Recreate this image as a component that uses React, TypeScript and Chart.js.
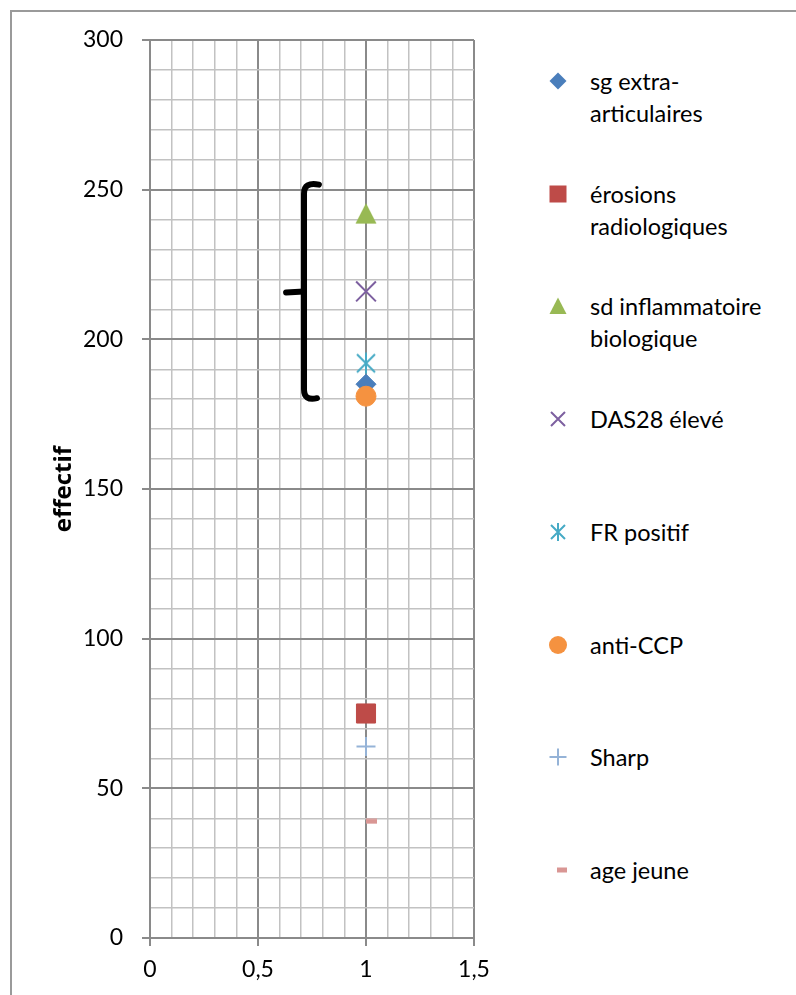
import React, { useEffect, useRef } from 'react';
import { Chart, registerables } from 'chart.js';

Chart.register(...registerables);

// Series: one point each, all at x = 1
const seriesNames = [
  'sg extra-\narticulaires',
  'érosions\nradiologiques',
  'sd inflammatoire\nbiologique',
  'DAS28 élevé',
  'FR positif',
  'anti-CCP',
  'Sharp',
  'age jeune',
];
const seriesX = [1, 1, 1, 1, 1, 1, 1, 1];
const seriesY = [185, 75, 242, 216, 192, 181, 64, 39];
const seriesColors = ['#4a7ebb', '#be4b48', '#98b954', '#7d60a0', '#46aac5', '#f59240', '#95b3d7', '#d99694'];
const seriesMarkers = ['diamond', 'square', 'triangle', 'cross', 'asterisk', 'circle', 'plus', 'dash'];

// Axes
const xMin = 0;
const xMax = 1.5;
const xStep = 0.1;
const xTickValues = [0, 0.5, 1, 1.5];
const xTickLabels = ['0', '0,5', '1', '1,5'];
const yMin = 0;
const yMax = 300;
const yStep = 10;
const yTickValues = [0, 50, 100, 150, 200, 250, 300];
const yTickLabels = ['0', '50', '100', '150', '200', '250', '300'];
const yTitle = 'effectif';

// Hand-drawn brace grouping the upper points (data units)
const braceX = 0.713;
const braceTopHookX = 0.782;
const braceBottomHookX = 0.773;
const braceNibX = 0.63;
const braceTop = 252;
const braceBottom = 180;
const braceMid = 216;

const FONT = 'Lato, "Open Sans", "DejaVu Sans", sans-serif';
const TITLE_FONT = '"Open Sans", Lato, "DejaVu Sans", sans-serif';

const near = (a: number, b: number) => Math.abs(a - b) < 1e-6;
const isMajor = (v: number, list: number[]) => list.some((t) => near(t, v));
const labelFor = (v: number, values: number[], labels: string[]) => {
  const i = values.findIndex((t) => near(t, v));
  return i >= 0 ? labels[i] : '';
};

const MINOR = '#c2c2c2';
const MAJOR = '#8a8a8a';

function markerCanvas(kind: string, color: string): HTMLCanvasElement {
  const c = document.createElement('canvas');
  const ctx = c.getContext('2d')!;
  if (kind === 'triangle') {
    c.width = 22;
    c.height = 22;
    ctx.fillStyle = color;
    ctx.beginPath();
    ctx.moveTo(11, 0.5);
    ctx.lineTo(21.5, 21);
    ctx.lineTo(0.5, 21);
    ctx.closePath();
    ctx.fill();
  } else if (kind === 'asterisk') {
    c.width = 22;
    c.height = 22;
    ctx.strokeStyle = color;
    ctx.lineWidth = 2;
    ctx.beginPath();
    ctx.moveTo(2, 2);
    ctx.lineTo(20, 20);
    ctx.moveTo(20, 2);
    ctx.lineTo(2, 20);
    ctx.moveTo(11, 0.5);
    ctx.lineTo(11, 21.5);
    ctx.stroke();
  } else {
    // dash: drawn to the right of the point, Excel style
    c.width = 24;
    c.height = 6;
    ctx.fillStyle = color;
    ctx.fillRect(12, 0.5, 11, 5);
  }
  return c;
}

function pointProps(kind: string, color: string) {
  switch (kind) {
    case 'diamond':
      return { pointStyle: 'rectRot', radius: 10, borderWidth: 1 };
    case 'square':
      return { pointStyle: 'rect', radius: 13.5, borderWidth: 1 };
    case 'circle':
      return { pointStyle: 'circle', radius: 10, borderWidth: 1 };
    case 'cross':
      return { pointStyle: 'crossRot', radius: 14, borderWidth: 2 };
    case 'plus':
      return { pointStyle: 'cross', radius: 9.5, borderWidth: 2 };
    default:
      return { pointStyle: markerCanvas(kind, color), radius: 10, borderWidth: 0 };
  }
}

function LegendMarker({ kind, color }: { kind: string; color: string }) {
  let shape: React.ReactNode = null;
  switch (kind) {
    case 'diamond':
      shape = <polygon points="10,1.5 18.5,10 10,18.5 1.5,10" fill={color} />;
      break;
    case 'square':
      shape = <rect x="1.5" y="1.5" width="17" height="17" fill={color} />;
      break;
    case 'triangle':
      shape = <polygon points="10,1.5 18.5,18 1.5,18" fill={color} />;
      break;
    case 'cross':
      shape = <path d="M3 3 L17 17 M17 3 L3 17" stroke={color} strokeWidth="2" />;
      break;
    case 'asterisk':
      shape = <path d="M3 3 L17 17 M17 3 L3 17 M10 1 L10 19" stroke={color} strokeWidth="2" />;
      break;
    case 'circle':
      shape = <circle cx="10" cy="10" r="9" fill={color} />;
      break;
    case 'plus':
      shape = <path d="M1.5 10 L18.5 10 M10 1.5 L10 18.5" stroke={color} strokeWidth="2" />;
      break;
    default:
      shape = <rect x="9" y="7.5" width="10" height="5" fill={color} />;
  }
  return (
    <svg width="20" height="20" viewBox="0 0 20 20" style={{ display: 'block' }}>
      {shape}
    </svg>
  );
}

const bracePlugin = {
  id: 'brace',
  afterDatasetsDraw(chart: any) {
    const { ctx, scales } = chart;
    const x = scales.x;
    const y = scales.y;
    const px = x.getPixelForValue(braceX);
    const top = y.getPixelForValue(braceTop);
    const bot = y.getPixelForValue(braceBottom);
    const mid = y.getPixelForValue(braceMid);
    ctx.save();
    ctx.strokeStyle = '#000';
    ctx.lineWidth = 6;
    ctx.lineCap = 'round';
    ctx.lineJoin = 'round';
    ctx.beginPath();
    ctx.moveTo(x.getPixelForValue(braceTopHookX), top + 1);
    ctx.quadraticCurveTo(px, top - 2, px, top + 10);
    ctx.lineTo(px, bot - 10);
    ctx.quadraticCurveTo(px, bot + 2, x.getPixelForValue(braceBottomHookX), bot - 1);
    ctx.stroke();
    ctx.beginPath();
    ctx.moveTo(px, mid);
    ctx.lineTo(x.getPixelForValue(braceNibX), mid + 1);
    ctx.stroke();
    ctx.restore();
  },
};

export default function App() {
  const canvasRef = useRef<HTMLCanvasElement | null>(null);

  useEffect(() => {
    if (!canvasRef.current) return;
    const datasets = seriesNames.map((name, i) => {
      const p = pointProps(seriesMarkers[i], seriesColors[i]);
      return {
        label: name.replace('\n', ''),
        data: [{ x: seriesX[i], y: seriesY[i] }],
        backgroundColor: seriesColors[i],
        borderColor: seriesColors[i],
        pointStyle: p.pointStyle as any,
        pointRadius: p.radius,
        pointBorderWidth: p.borderWidth,
        showLine: false,
        order: seriesNames.length - i,
      };
    });

    const chart = new Chart(canvasRef.current, {
      type: 'scatter',
      data: { datasets },
      plugins: [bracePlugin],
      options: {
        responsive: false,
        animation: false,
        events: [],
        layout: { padding: { left: 46, top: 40, right: 26, bottom: 0 } },
        plugins: { legend: { display: false }, tooltip: { enabled: false } },
        scales: {
          x: {
            type: 'linear',
            min: xMin,
            max: xMax,
            ticks: {
              stepSize: xStep,
              autoSkip: false,
              maxRotation: 0,
              minRotation: 0,
              padding: 10,
              color: '#000',
              font: { family: FONT, size: 23 },
              callback: (v: any) => labelFor(Number(v), xTickValues, xTickLabels),
            },
            grid: {
              color: (c: any) => (isMajor(c.tick.value, xTickValues) ? MAJOR : MINOR),
              lineWidth: (c: any) => (isMajor(c.tick.value, xTickValues) ? 2 : 1.5),
              tickLength: 8,
              tickColor: (c: any) => (isMajor(c.tick.value, xTickValues) ? MAJOR : 'rgba(0,0,0,0)'),
            },
            border: { color: MAJOR, width: 2 },
            afterFit: (s: any) => {
              s.height = 57;
            },
          },
          y: {
            type: 'linear',
            min: yMin,
            max: yMax,
            title: {
              display: true,
              text: yTitle,
              color: '#000',
              font: { family: TITLE_FONT, size: 24, weight: 'bold' },
            },
            ticks: {
              stepSize: yStep,
              autoSkip: false,
              padding: 19,
              color: '#000',
              font: { family: FONT, size: 23 },
              callback: (v: any) => labelFor(Number(v), yTickValues, yTickLabels),
            },
            grid: {
              color: (c: any) => (isMajor(c.tick.value, yTickValues) ? MAJOR : MINOR),
              lineWidth: (c: any) => (isMajor(c.tick.value, yTickValues) ? 2 : 1.5),
              tickLength: 8,
              tickColor: (c: any) => (isMajor(c.tick.value, yTickValues) ? MAJOR : 'rgba(0,0,0,0)'),
            },
            border: { color: MAJOR, width: 2 },
            afterFit: (s: any) => {
              s.width = 104;
            },
          },
        },
      } as any,
    });
    return () => chart.destroy();
  }, []);

  return (
    <div
      style={{
        position: 'fixed',
        left: 0,
        top: 0,
        width: 796,
        height: 995,
        overflow: 'hidden',
        background: '#fff',
        fontFamily: FONT,
      }}
    >
      <div
        style={{
          position: 'absolute',
          left: 10,
          top: 10,
          width: 900,
          height: 1100,
          borderLeft: '2px solid #9a9a9a',
          borderTop: '2px solid #9a9a9a',
        }}
      />
      <canvas
        ref={canvasRef}
        width={500}
        height={995}
        style={{ position: 'absolute', left: 0, top: 0, width: 500, height: 995 }}
      />
      {seriesNames.map((name, i) => {
        const top = 65 + i * 112.7;
        return (
          <div key={i} style={{ position: 'absolute', left: 0, top, width: 796 }}>
            <div style={{ position: 'absolute', left: 548, top: 6 }}>
              <LegendMarker kind={seriesMarkers[i]} color={seriesColors[i]} />
            </div>
            <div
              style={{
                position: 'absolute',
                left: 590,
                top: 0,
                fontSize: 23.5,
                lineHeight: '32px',
                color: '#000',
                whiteSpace: 'pre',
              }}
            >
              {name}
            </div>
          </div>
        );
      })}
    </div>
  );
}
